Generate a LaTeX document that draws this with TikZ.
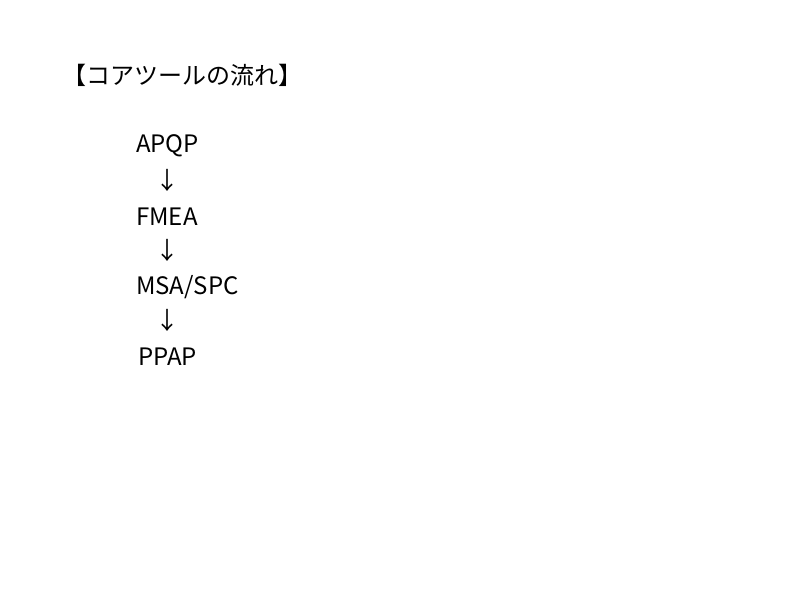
\documentclass[tikz,border=0pt]{standalone}
\usepackage{fontspec}
\setmainfont{Noto Sans CJK JP}
\begin{document}
\begin{tikzpicture}[x=1pt,y=-1pt,
  lbl/.style={anchor=west,inner sep=0pt,font=\fontsize{24}{28}\selectfont},
  arr/.style={anchor=center,inner sep=0pt,font=\fontsize{24}{28}\selectfont}]
\useasboundingbox[fill=white] (0,0) rectangle (800,600);
\node[lbl] (title) at (62,75) {【コアツールの流れ】};
\node[lbl] (apqp) at (136,146) {APQP};
\node[arr] (a1) at (167,180) {↓};
\node[lbl] (fmea) at (136,217) {FMEA};
\node[arr] (a2) at (167,250) {↓};
\node[lbl] (msa) at (136,287) {MSA/SPC};
\node[arr] (a3) at (167,320) {↓};
\node[lbl] (ppap) at (138,357) {PPAP};
\end{tikzpicture}
\end{document}
